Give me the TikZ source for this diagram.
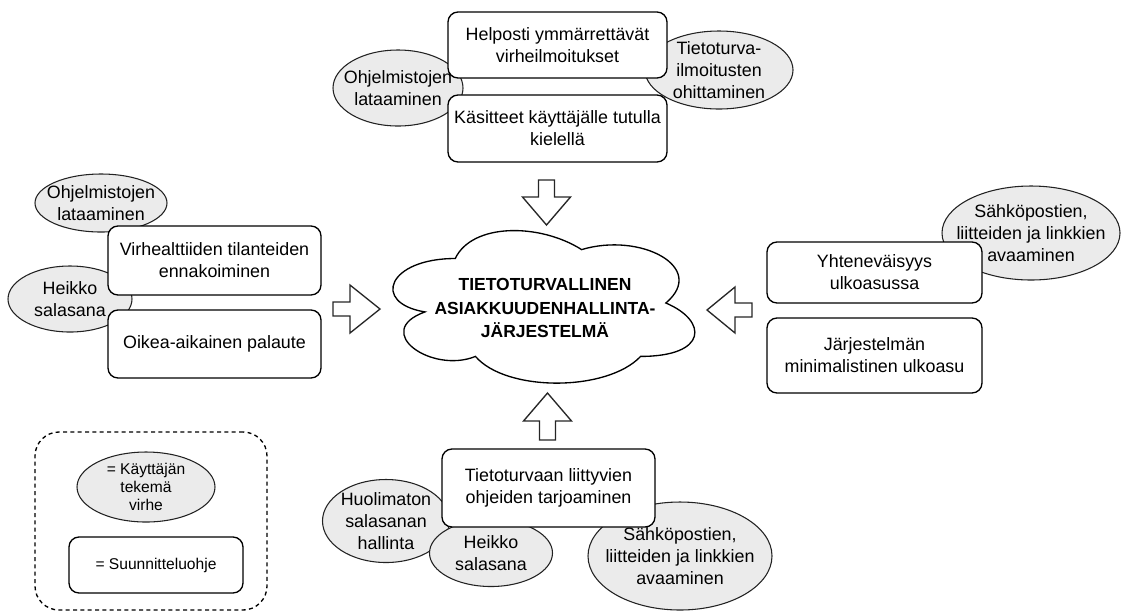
\documentclass[tikz,border=0pt]{standalone}
\usepackage{fontspec}
\setmainfont{Liberation Sans}
\usetikzlibrary{shapes.geometric}
\definecolor{errfill}{HTML}{EBEBEB}
\definecolor{inkline}{HTML}{222222}
\begin{document}
\begin{tikzpicture}[x=0.75pt,y=-0.75pt,
  wh/.style 2 args={minimum width={#1*0.75pt}, minimum height={#2*0.75pt}},
  box/.style={draw=black, line width=1pt, rounded corners=7.5pt, fill=white,
    align=center, inner sep=0pt, font=\fontsize{13.4}{16.5}\selectfont},
  err/.style={draw=inkline, line width=0.8pt, fill=errfill, ellipse, inner sep=0pt},
  errtext/.style={align=center, inner sep=0pt, font=\fontsize{13.4}{16.5}\selectfont},
  blockarrow/.style={draw=black!85, line width=1pt, fill=white, line join=miter},
  smalltext/.style={font=\fontsize{11.7}{13.4}\selectfont}
]
\useasboundingbox (0,0) rectangle (1123,612);

% ---------- user-error ellipses (shapes only, labels come later) ----------
\node[err, wh={130}{76}]  (te1) at (398,88)  {};
\node[err, wh={148}{78}]  (te2) at (719,70)  {};
\node[err, wh={132}{58}]  (le1) at (101,203) {};
\node[err, wh={124}{66}]  (le2) at (70,299)  {};
\node[err, wh={178}{94}]  (re1) at (1031,233) {};
\node[err, wh={127}{83}]  (be1) at (386,521) {};
\node[err, wh={123}{67}]  (be2) at (491,553) {};
\node[err, wh={184}{108}] (be3) at (680,556) {};

% ---------- design guidelines ----------
\node[box, wh={219}{66}] (t1) at (557.5,45)    {Helposti ymmärrettävät\\virheilmoitukset};
\node[box, wh={219}{67}] (t2) at (557.5,128.5) {Käsitteet käyttäjälle tutulla\\kielellä};
\node[box, wh={213}{69}] (l1) at (214.5,260.5) {Virhealttiiden tilanteiden\\ennakoiminen};
\node[box, wh={213}{68}] (l2) at (214.5,344)   {Oikea-aikainen palaute};
\node[box, wh={215}{61}] (r1) at (874.5,272.5) {Yhteneväisyys\\ulkoasussa};
\node[box, wh={215}{75}] (r2) at (874.5,355.5) {Järjestelmän\\minimalistinen ulkoasu};
\node[box, wh={213}{78}] (b1) at (548.5,488)   {Tietoturvaan liittyvien\\ohjeiden tarjoaminen};

% ---------- ellipse labels on top ----------
\node[errtext] (te1t) at (te1) {Ohjelmistojen\\lataaminen};
\node[errtext] (te2t) at (te2) {Tietoturva-\\ilmoitusten\\ohittaminen};
\node[errtext] (le1t) at (le1) {Ohjelmistojen\\lataaminen};
\node[errtext] (le2t) at (le2) {Heikko\\salasana};
\node[errtext] (re1t) at (re1) {Sähköpostien,\\liitteiden ja linkkien\\avaaminen};
\node[errtext] (be1t) at (be1) {Huolimaton\\salasanan\\hallinta};
\node[errtext] (be2t) at (be2) {Heikko\\salasana};
\node[errtext] (be3t) at (be3) {Sähköpostien,\\liitteiden ja linkkien\\avaaminen};

% ---------- central cloud ----------
\begin{scope}[shift={(371,214)}, x={337*0.75pt}, y={-178*0.75pt}]
  \draw[line width=1pt, fill=white]
    (0.25,0.25)
    .. controls (0.05,0.25) and (0,0.5) .. (0.16,0.55)
    .. controls (0,0.66) and (0.18,0.9) .. (0.31,0.8)
    .. controls (0.4,1) and (0.7,1) .. (0.8,0.8)
    .. controls (1,0.8) and (1,0.6) .. (0.875,0.5)
    .. controls (1,0.3) and (0.8,0.1) .. (0.625,0.2)
    .. controls (0.5,0.05) and (0.3,0.05) .. (0.25,0.25) -- cycle;
\end{scope}
\node[align=center, inner sep=0pt, font=\fontsize{13.1}{17.8}\selectfont\bfseries] (core) at (545,308)
  {TIETOTURVALLINEN\\ASIAKKUUDENHALLINTA-\\JÄRJESTELMÄ};

% ---------- block arrows toward the cloud ----------
% from above
\draw[blockarrow] (538.5,180) -- (554.5,180) -- (554.5,197) -- (570.5,197)
  -- (546.5,225) -- (522.5,197) -- (538.5,197) -- cycle;
% from below
\draw[blockarrow] (539.5,440) -- (555.5,440) -- (555.5,421) -- (571.5,421)
  -- (547.5,393) -- (523.5,421) -- (539.5,421) -- cycle;
% from the left
\draw[blockarrow] (333,302) -- (350,302) -- (350,285) -- (380,309)
  -- (350,333) -- (350,316) -- (333,316) -- cycle;
% from the right
\draw[blockarrow] (752,303) -- (735,303) -- (735,287) -- (707,310)
  -- (735,333) -- (735,317) -- (752,317) -- cycle;

% ---------- legend ----------
\node[draw=black, line width=1pt, dash pattern=on 3pt off 2.5pt, rounded corners=18pt,
  wh={232}{178}, inner sep=0pt] (legend) at (151,521) {};
\node[err, wh={138}{70}, align=center, smalltext] (legerr) at (146,487)
  {= Käyttäjän\\tekemä\\virhe};
\node[box, wh={174}{56}, smalltext] (legbox) at (156,565) {= Suunnitteluohje};
\end{tikzpicture}
\end{document}
